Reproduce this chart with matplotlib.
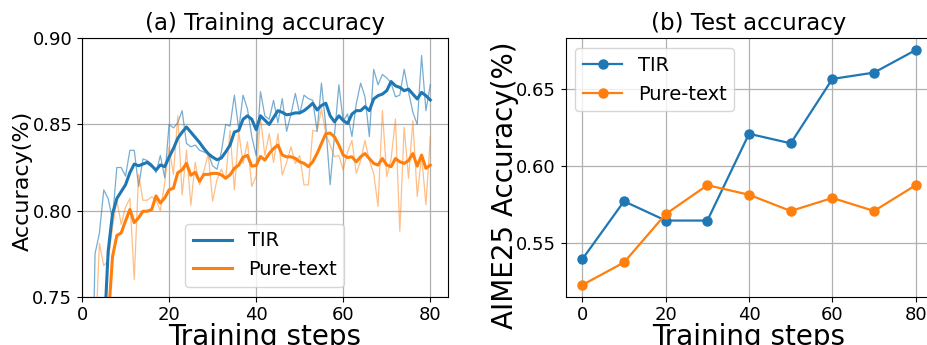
import matplotlib
matplotlib.use("Agg")
import matplotlib.pyplot as plt
import numpy as np

# ---------------- data ----------------
train_steps = list(range(1, 81))

tir_raw = [0.55, 0.65, 0.775, 0.787, 0.812, 0.807, 0.795, 0.825, 0.825, 0.820,
           0.835, 0.835, 0.814, 0.830, 0.829, 0.827, 0.822, 0.832, 0.819, 0.850,
           0.848, 0.851, 0.858, 0.839, 0.837, 0.838, 0.835, 0.834, 0.833, 0.826,
           0.824, 0.834, 0.850, 0.849, 0.867, 0.847, 0.867, 0.859, 0.843, 0.832,
           0.869, 0.855, 0.853, 0.864, 0.851, 0.865, 0.846, 0.856, 0.868, 0.856,
           0.867, 0.865, 0.864, 0.846, 0.874, 0.849, 0.815, 0.844, 0.873, 0.852,
           0.856, 0.843, 0.862, 0.874, 0.866, 0.843, 0.882, 0.873, 0.879, 0.877,
           0.874, 0.866, 0.867, 0.882, 0.869, 0.857, 0.850, 0.890, 0.858, 0.873]

tir_smooth = [0.60, 0.64, 0.67, 0.70, 0.724, 0.776, 0.798, 0.807, 0.811, 0.815,
              0.822, 0.827, 0.826, 0.827, 0.828, 0.826, 0.8235, 0.8265, 0.8255, 0.831,
              0.836, 0.842, 0.8455, 0.8485, 0.8455, 0.8425, 0.8395, 0.836, 0.833, 0.831,
              0.8295, 0.8305, 0.834, 0.838, 0.8456, 0.8465, 0.853, 0.855, 0.853, 0.847,
              0.855, 0.8525, 0.850, 0.854, 0.858, 0.857, 0.8556, 0.856, 0.8567, 0.8567,
              0.858, 0.860, 0.8623, 0.8584, 0.861, 0.8623, 0.855, 0.8515, 0.855, 0.8523,
              0.8505, 0.856, 0.858, 0.858, 0.8603, 0.858, 0.8648, 0.8667, 0.8676, 0.8696,
              0.8749, 0.8724, 0.8715, 0.8696, 0.8705, 0.8676, 0.8648, 0.8686, 0.8667, 0.8642]

pure_raw = [0.55, 0.62, 0.72, 0.781, 0.768, 0.771, 0.790, 0.806, 0.792, 0.802,
            0.807, 0.760, 0.821, 0.806, 0.806, 0.808, 0.806, 0.800, 0.816, 0.837,
            0.821, 0.855, 0.809, 0.835, 0.803, 0.828, 0.815, 0.823, 0.833, 0.8055,
            0.818, 0.824, 0.818, 0.8465, 0.812, 0.8456, 0.8274, 0.840, 0.814, 0.820,
            0.854, 0.832, 0.8446, 0.828, 0.8446, 0.8206, 0.828, 0.837, 0.8273, 0.832,
            0.8149, 0.8149, 0.8465, 0.846, 0.859, 0.8446, 0.838, 0.8312, 0.832, 0.8235,
            0.834, 0.8408, 0.8216, 0.829, 0.8407, 0.829, 0.8216, 0.8024, 0.858, 0.8197,
            0.830, 0.8532, 0.788, 0.8484, 0.8187, 0.8522, 0.8081, 0.8321, 0.8034, 0.8427]

pure_smooth = [0.55, 0.60, 0.64, 0.67, 0.70, 0.735, 0.773, 0.7855, 0.787, 0.794,
               0.8006, 0.793, 0.7958, 0.7996, 0.7996, 0.8006, 0.8085, 0.8044, 0.8073, 0.812,
               0.813, 0.822, 0.8236, 0.8274, 0.8205, 0.8222, 0.817, 0.821, 0.821, 0.8216,
               0.8216, 0.8207, 0.8188, 0.8207, 0.8245, 0.8264, 0.831, 0.832, 0.8258, 0.8262,
               0.8314, 0.8293, 0.8331, 0.836, 0.838, 0.8322, 0.8312, 0.8312, 0.8303, 0.8283,
               0.8274, 0.8255, 0.8283, 0.8331, 0.8389, 0.8446, 0.845, 0.8427, 0.838, 0.8322,
               0.8308, 0.8312, 0.8283, 0.8312, 0.8331, 0.8302, 0.8274, 0.8264, 0.8302, 0.8264,
               0.8255, 0.8302, 0.8283, 0.8274, 0.829, 0.8331, 0.8258, 0.8322, 0.8245, 0.8264]

test_steps = [0, 10, 20, 30, 40, 50, 60, 70, 80]
tir_test = [0.5396, 0.5771, 0.5646, 0.5646, 0.6208, 0.6146, 0.6563, 0.6604, 0.6750]
pure_test = [0.5229, 0.5375, 0.5688, 0.5875, 0.5813, 0.5708, 0.5792, 0.5708, 0.5875]

series_names = ["TIR", "Pure-text"]
titles = ["(a) Training accuracy", "(b) Test accuracy"]

# ---------------- plot ----------------
BLUE = "#1f77b4"
ORANGE = "#ff7f0e"
W, H = 927, 345
fig = plt.figure(figsize=(W / 100, H / 100), dpi=100)

ax1 = fig.add_axes([82 / W, (H - 296.7) / H, 365.7 / W, 258.4 / H])
ax2 = fig.add_axes([565.7 / W, (H - 296.7) / H, 366.7 / W, 258.4 / H])

ax1.plot(train_steps, tir_raw, color=BLUE, lw=0.9, alpha=0.6)
ax1.plot(train_steps, pure_raw, color=ORANGE, lw=0.9, alpha=0.5)
ax1.plot(train_steps, tir_smooth, color=BLUE, lw=2.2, label=series_names[0])
ax1.plot(train_steps, pure_smooth, color=ORANGE, lw=2.2, label=series_names[1])
ax1.set_xlim(0, 84)
ax1.set_ylim(0.75, 0.90)
ax1.set_xticks([0, 20, 40, 60, 80])
ax1.set_yticks([0.75, 0.80, 0.85, 0.90])
ax1.grid(True, color="#b0b0b0", lw=0.9)
ax1.set_title(titles[0], fontsize=16.5)
ax1.set_xlabel("Training steps", fontsize=20, labelpad=-1)
ax1.set_ylabel("Accuracy(%)", fontsize=16)
ax1.yaxis.set_label_coords(-0.134, 0.45)
ax1.legend(loc="lower center", fontsize=14)

ax2.plot(test_steps, tir_test, color=BLUE, marker="o", lw=1.6, ms=6.5, label=series_names[0])
ax2.plot(test_steps, pure_test, color=ORANGE, marker="o", lw=1.6, ms=6.5, label=series_names[1])
ax2.set_xlim(-4, 84)
ax2.set_xticks([0, 20, 40, 60, 80])
ax2.set_yticks([0.55, 0.60, 0.65])
ax2.grid(True, color="#b0b0b0", lw=0.9)
ax2.set_title(titles[1], fontsize=16.5)
ax2.set_xlabel("Training steps", fontsize=20, labelpad=-1)
ax2.set_ylabel("AIME25 Accuracy(%)", fontsize=20)
ax2.yaxis.set_label_coords(-0.128, 0.43)
ax2.legend(loc="upper left", fontsize=14)

for ax in (ax1, ax2):
    ax.tick_params(labelsize=13)
    ax.set_axisbelow(True)

fig.savefig("out.png", dpi=100)
